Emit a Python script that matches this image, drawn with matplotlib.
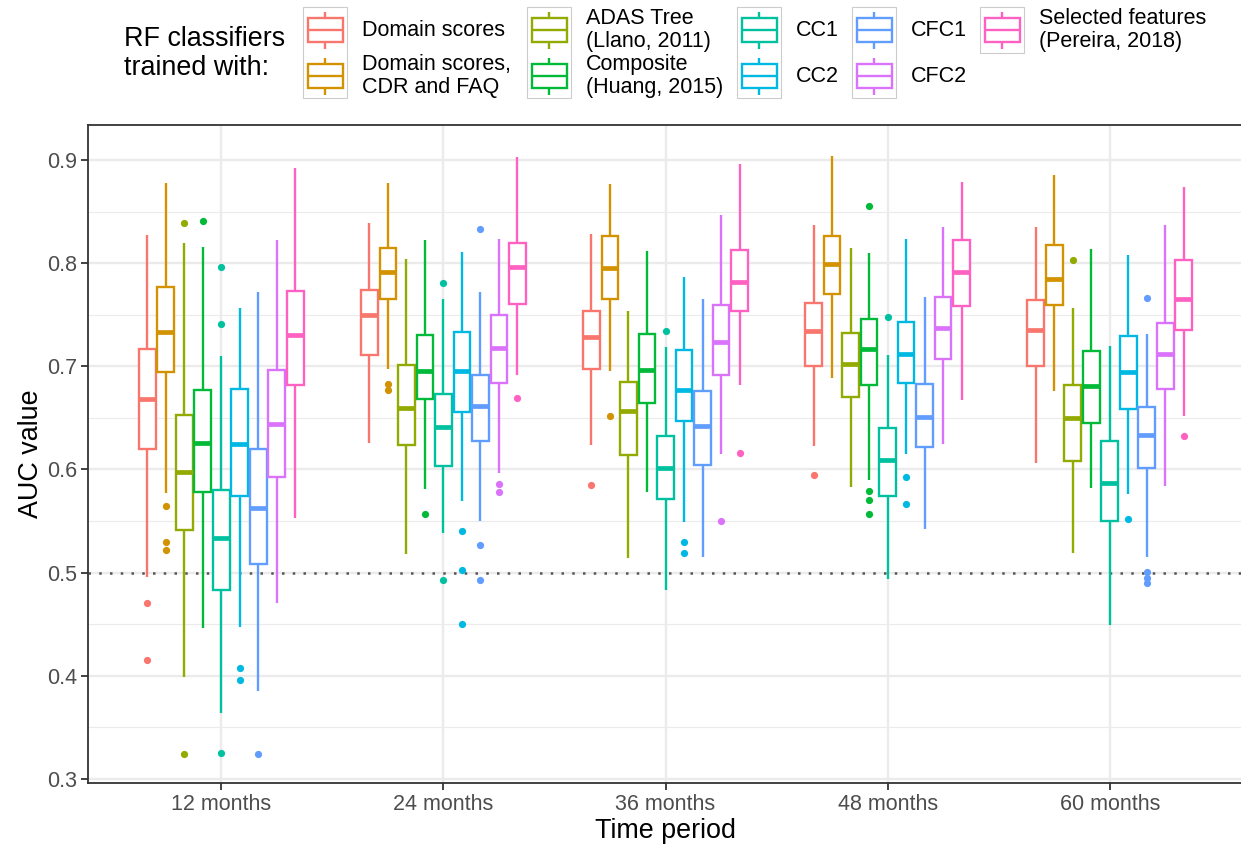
import matplotlib
matplotlib.use("Agg")
import matplotlib.pyplot as plt
from matplotlib.patches import Rectangle

plt.rcParams['font.family'] = ['Liberation Sans', 'DejaVu Sans']

# ---------------- data ----------------
periods = ["12 months", "24 months", "36 months", "48 months", "60 months"]
series_labels = ["Domain scores", "Domain scores,\nCDR and FAQ", "ADAS Tree\n(Llano, 2011)",
                 "Composite\n(Huang, 2015)", "CC1", "CC2", "CFC1", "CFC2",
                 "Selected features\n(Pereira, 2018)"]
colors = ["#F8766D", "#D39200", "#93AA00", "#00BA38", "#00C19F",
          "#00B9E3", "#619CFF", "#DB72FB", "#FF61C3"]

# per period: (lower whisker, Q1, median, Q3, upper whisker)
domain_scores = [(.496, .620, .668, .717, .827), (.626, .711, .750, .774, .839),
                 (.624, .697, .728, .754, .828), (.623, .700, .734, .761, .837),
                 (.606, .700, .735, .764, .835)]
domain_cdr_faq = [(.577, .694, .733, .777, .878), (.697, .765, .791, .815, .878),
                  (.695, .765, .795, .826, .877), (.689, .770, .799, .826, .904),
                  (.676, .759, .785, .818, .885)]
adas_tree = [(.399, .541, .598, .653, .820), (.518, .624, .660, .701, .804),
             (.514, .614, .657, .685, .754), (.583, .670, .702, .732, .815),
             (.519, .608, .650, .682, .757)]
composite = [(.446, .578, .626, .677, .816), (.581, .668, .695, .730, .822),
             (.578, .664, .696, .731, .812), (.590, .682, .717, .746, .810),
             (.582, .645, .681, .715, .814)]
cc1 = [(.364, .483, .534, .580, .710), (.538, .603, .641, .673, .765),
       (.483, .571, .601, .632, .719), (.494, .574, .609, .640, .711),
       (.449, .550, .587, .628, .720)]
cc2 = [(.447, .574, .625, .678, .757), (.569, .656, .695, .733, .811),
       (.549, .647, .677, .716, .787), (.615, .684, .712, .743, .823),
       (.576, .659, .694, .729, .808)]
cfc1 = [(.385, .508, .563, .620, .772), (.550, .628, .662, .692, .772),
        (.515, .604, .642, .676, .765), (.542, .622, .651, .683, .767),
        (.515, .601, .633, .661, .731)]
cfc2 = [(.471, .593, .644, .696, .822), (.597, .684, .718, .750, .823),
        (.615, .692, .724, .759, .847), (.625, .707, .737, .767, .835),
        (.584, .678, .712, .742, .837)]
selected = [(.553, .682, .730, .773, .892), (.692, .760, .796, .820, .903),
            (.682, .754, .782, .813, .896), (.667, .758, .791, .822, .879),
            (.652, .735, .765, .803, .874)]

# outliers per period
domain_scores_out = [[.471, .415], [], [.585], [.595], []]
domain_cdr_faq_out = [[.565, .530, .522], [.683, .677], [.652], [], []]
adas_tree_out = [[.839, .324], [], [], [], [.803]]
composite_out = [[.841], [.557], [], [.855, .579, .570, .557], []]
cc1_out = [[.796, .741, .325], [.781, .493], [.734], [.748], []]
cc2_out = [[.408, .396], [.540, .503, .450], [.530, .519], [.593, .567], [.552]]
cfc1_out = [[.324], [.833, .527, .493], [], [], [.766, .501, .495, .490]]
cfc2_out = [[], [.586, .578], [.550], [], []]
selected_out = [[], [.669], [.616], [], [.632]]

all_stats = [domain_scores, domain_cdr_faq, adas_tree, composite, cc1, cc2, cfc1, cfc2, selected]
all_out = [domain_scores_out, domain_cdr_faq_out, adas_tree_out, composite_out,
           cc1_out, cc2_out, cfc1_out, cfc2_out, selected_out]

yticks = [0.3, 0.4, 0.5, 0.6, 0.7, 0.8, 0.9]
yminor = [0.35, 0.45, 0.55, 0.65, 0.75, 0.85]

# ---------------- figure ----------------
W, H = 1241, 850
fig = plt.figure(figsize=(W / 100, H / 100), dpi=100)
ax = fig.add_axes([88 / W, (H - 783) / H, 1155 / W, 658 / H])

ax.set_xlim(0.4, 5.6)
ax.set_ylim(0.2961, 0.9339)

n = len(all_stats)
dodge = 0.75 / n
box_w = dodge * 0.9
lw = 1.7

for i, (st, outs, c) in enumerate(zip(all_stats, all_out, colors)):
    bx = []
    for (lo, q1, med, q3, hi), fl in zip(st, outs):
        bx.append(dict(whislo=lo, q1=q1, med=med, q3=q3, whishi=hi, fliers=fl))
    pos = [g + 1 + (i - (n - 1) / 2) * dodge for g in range(len(periods))]
    ax.bxp(bx, positions=pos, widths=box_w, patch_artist=True, showcaps=False,
           manage_ticks=False,
           boxprops=dict(facecolor='white', edgecolor=c, linewidth=lw),
           whiskerprops=dict(color=c, linewidth=lw, solid_capstyle='butt'),
           medianprops=dict(color=c, linewidth=lw * 2, solid_capstyle='butt'),
           flierprops=dict(marker='o', markerfacecolor=c, markeredgecolor='none',
                           markersize=5.2),
           zorder=3)

ax.axhline(0.5, color='#555555', linewidth=1.8, linestyle=(0, (1, 3.3)), zorder=2)

ax.set_xticks(range(1, len(periods) + 1))
ax.set_xticklabels(periods)
ax.set_yticks(yticks)
ax.set_yticklabels([f"{v:.1f}" for v in yticks])
ax.set_yticks(yminor, minor=True)
ax.tick_params(axis='both', which='major', length=4.8, width=1.3, color='#333333',
               labelcolor='#4D4D4D', labelsize=15.5, pad=3)
ax.tick_params(axis='both', which='minor', length=0)
ax.grid(which='major', color='#EBEBEB', linewidth=1.7)
ax.grid(which='minor', axis='y', color='#EBEBEB', linewidth=0.85)
ax.set_axisbelow(True)
for s in ax.spines.values():
    s.set_color('#333333')
    s.set_linewidth(1.3)

ax.set_xlabel("Time period", fontsize=19.4, labelpad=2)
ax.set_ylabel("AUC value", fontsize=19.4, labelpad=2)

# ---------------- legend (drawn on an overlay in pixel units) ----------------
lax = fig.add_axes([0, 0, 1, 1], facecolor='none')
lax.set_xlim(0, W)
lax.set_ylim(H, 0)
lax.axis('off')

lax.text(124, 53, "RF classifiers\ntrained with:", fontsize=19.4, ha='left', va='center',
         linespacing=1.15)

col_left = [303, 527, 737, 852, 980]
row_c = [30, 76]
for i, (lab, c) in enumerate(zip(series_labels, colors)):
    col, row = i // 2, i % 2
    x0 = col_left[col]
    cy = row_c[row]
    if row == 0:
        nrows = 2 if i + 1 < n else 1
        top, bot = 7, (98 if nrows == 2 else 53)
        lax.add_patch(Rectangle((x0, top), 44, bot - top, fill=False,
                                edgecolor='#CCCCCC', linewidth=0.8))
    lax.add_patch(Rectangle((x0 + 4.5, cy - 12), 35, 24, facecolor='white',
                            edgecolor=c, linewidth=lw))
    lax.plot([x0 + 4.5, x0 + 39.5], [cy, cy], color=c, linewidth=lw, solid_capstyle='butt')
    lax.plot([x0 + 22, x0 + 22], [cy - 18.5, cy - 12], color=c, linewidth=lw, solid_capstyle='butt')
    lax.plot([x0 + 22, x0 + 22], [cy + 12, cy + 18.5], color=c, linewidth=lw, solid_capstyle='butt')
    lax.text(x0 + 59, cy, lab, fontsize=15.5, ha='left', va='center', linespacing=1.1)

fig.savefig("out.png", dpi=100)
